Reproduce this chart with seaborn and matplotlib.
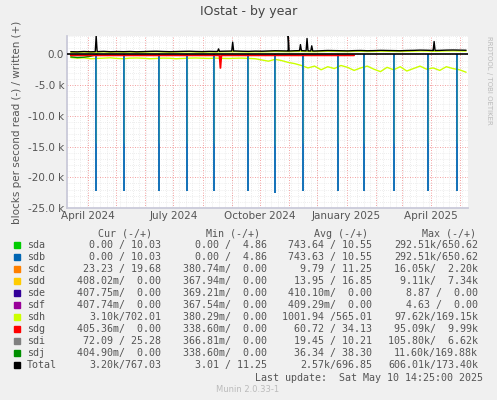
import numpy as np
import pandas as pd
import matplotlib
matplotlib.use("Agg")
import matplotlib.pyplot as plt
import matplotlib.dates as mdates
import seaborn as sns

# weekly samples
weeks = pd.date_range("2024-03-14", "2025-05-08", freq="7D")
total_w = [450, 420, 480, 430, 460, 500, 440, 470, 450, 480, 430, 460, 500, 520, 480, 450,
           470, 500, 520, 480, 460, 500, 480, 520, 540, 560, 520, 500, 540, 520, 560, 600,
           580, 560, 600, 620, 580, 560, 600, 640, 620, 600, 580, 620, 640, 600, 620, 660,
           640, 620, 600, 640, 660, 700, 680, 640, 660, 700, 720, 700, 680]
sdh_w = [-500, -600, -550, -700, -650, -600, -550, -650, -700, -600, -580, -620, -700, -650,
         -600, -620, -700, -650, -600, -580, -620, -650, -600, -640, -660, -620, -600, -650,
         -700, -900, -1100, -800, -1000, -1300, -1500, -1800, -2200, -1900, -2500, -2000,
         -2300, -1800, -2100, -2600, -2200, -1900, -2400, -2800, -2100, -2500, -2000, -2700,
         -2300, -1900, -2400, -2200, -2600, -2000, -2300, -2500, -2900]
sdj_w = [-400, -500, -450, -300] + [0] * 57

# events
total_spike_dates = ["2024-04-10", "2024-08-18", "2024-09-02", "2024-10-31",
                     "2024-11-13", "2024-11-20", "2024-11-25", "2025-04-04"]
total_spike_vals = [3000, 900, 2000, 3200, 1600, 2600, 1400, 2100]
sdb_spike_dates = ["2024-04-10", "2024-05-10", "2024-06-16", "2024-07-16", "2024-08-13",
                   "2024-09-18", "2024-10-17", "2024-11-16", "2024-12-23", "2025-01-20",
                   "2025-02-20", "2025-03-29", "2025-04-28"]
sdb_spike_vals = [-22200, -22200, -22200, -22200, -22200, -22200, -22600, -22200,
                  -22200, -22200, -22200, -22200, -22200]
sdg_spike_date = "2024-08-20"
sdg_spike_val = -2200

legend_names = ["sda", "sdb", "sdc", "sdd", "sde", "sdf", "sdh", "sdg", "sdi", "sdj", "Total"]
legend_colors = ["#00CC00", "#0066B3", "#FF8000", "#FFCC00", "#330099", "#990099",
                 "#CCFF00", "#FF0000", "#808080", "#008F00", "#000000"]
cur = ["0.00 / 10.03", "0.00 / 10.03", "23.23 / 19.68", "408.02m/  0.00", "407.75m/  0.00",
       "407.74m/  0.00", "3.10k/702.01", "405.36m/  0.00", "72.09 / 25.28", "404.90m/  0.00",
       "3.20k/767.03"]
mins = ["0.00 /  4.86", "0.00 /  4.86", "380.74m/  0.00", "367.94m/  0.00", "369.21m/  0.00",
        "367.54m/  0.00", "380.29m/  0.00", "338.60m/  0.00", "366.81m/  0.00", "338.60m/  0.00",
        "3.01 / 11.25"]
avgs = ["743.64 / 10.55", "743.63 / 10.55", "9.79 / 11.25", "13.95 / 16.85", "410.10m/  0.00",
        "409.29m/  0.00", "1001.94 /565.01", "60.72 / 34.13", "19.45 / 10.21", "36.34 / 38.30",
        "2.57k/696.85"]
maxs = ["292.51k/650.62", "292.51k/650.62", "16.05k/  2.20k", "9.11k/  7.34k", "8.87 /  0.00",
        "4.63 /  0.00", "97.62k/169.15k", "95.09k/  9.99k", "105.80k/  6.62k", "11.60k/169.88k",
        "606.01k/173.40k"]

sns.set_theme(style="white")
plt.rcParams["font.family"] = ["DejaVu Sans"]

fig = plt.figure(figsize=(4.97, 4.0), dpi=100, facecolor="#F0F0F0")
ax = fig.add_axes([67 / 497, 192 / 400, 401 / 497, 172 / 400], facecolor="white")

start, end = pd.Timestamp("2024-03-10"), pd.Timestamp("2025-05-10")

# grid
for d in pd.date_range(start, end, freq="7D"):
    ax.axvline(d, color="#DDDDDD", lw=0.5, ls=(0, (1, 2)), zorder=0)
for d in pd.date_range("2024-04-01", end, freq="MS"):
    ax.axvline(d, color="#F08080", lw=0.6, ls=(0, (1, 2)), zorder=0)
for v in range(-25000, 3001, 1000):
    c = "#F08080" if v % 5000 == 0 else "#DDDDDD"
    ax.axhline(v, color=c, lw=0.5 if c == "#DDDDDD" else 0.6, ls=(0, (1, 2)), zorder=0)


def series(base, dates, vals, width=1):
    s = pd.Series(base, index=weeks)
    extra = {}
    for d, v in zip(dates, vals):
        d = pd.Timestamp(d)
        extra[d - pd.Timedelta(days=width)] = np.interp(d.value, s.index.asi8, s.values)
        extra[d] = v
        extra[d + pd.Timedelta(days=width)] = np.interp(d.value, s.index.asi8, s.values)
    s = pd.concat([s, pd.Series(extra)]).sort_index()
    return s


# negative side
sdh = pd.Series(sdh_w, index=weeks)
ax.plot(sdh.index, sdh.values, color="#CCFF00", lw=1.0, zorder=3)
sdj = pd.Series(sdj_w, index=weeks)
ax.plot(sdj.index[:5], sdj.values[:5], color="#008F00", lw=1.0, zorder=3)
ax.vlines(pd.to_datetime(sdb_spike_dates), 0, sdb_spike_vals, color="#0066B3", lw=1.3, zorder=4)
ax.vlines(pd.to_datetime(sdb_spike_dates), -400, [v * 0.65 for v in sdb_spike_vals],
          color="#2E9C9A", lw=0.8, zorder=5, alpha=0.6)
sdg = series([-150] * len(weeks), [sdg_spike_date], [sdg_spike_val], width=1)
ax.plot(sdg.index[sdg.index < "2025-01-10"], sdg.values[sdg.index < "2025-01-10"],
        color="#FF0000", lw=1.3, zorder=4)

# positive side
ax.plot(weeks, [v * 0.8 for v in total_w], color="#CCFF00", lw=1.0, zorder=5)
tot = series(total_w, total_spike_dates, total_spike_vals, width=1)
ax.plot(tot.index, tot.values, color="black", lw=1.0, zorder=6)
ax.axhline(0, color="black", lw=1.2, zorder=6)

ax.set_xlim(start, end)
ax.set_ylim(-25000, 3000)
ax.set_yticks([0, -5000, -10000, -15000, -20000, -25000])
ax.set_yticklabels(["0.0", "-5.0 k", "-10.0 k", "-15.0 k", "-20.0 k", "-25.0 k"])
ax.xaxis.set_major_locator(mdates.MonthLocator(bymonth=[1, 4, 7, 10]))
ax.xaxis.set_major_formatter(mdates.DateFormatter("%B %Y"))
ax.tick_params(axis="both", labelsize=7.5, colors="#555555", length=0, pad=2)
for sp in ["top", "right"]:
    ax.spines[sp].set_visible(False)
for sp in ["left", "bottom"]:
    ax.spines[sp].set_color("#C8C8D8")
ax.set_ylabel("blocks per second read (-) / written (+)", fontsize=7.5, color="#555555")

fig.text(0.5, 1 - 12 / 400, "IOstat - by year", ha="center", va="center",
         fontsize=9, color="#444444")
fig.text(489 / 497, 0.8, "RRDTOOL / TOBI OETIKER", rotation=270, ha="center", va="center",
         fontsize=5, color="#BBBBBB")

mono = {"family": "DejaVu Sans Mono", "size": 7.2, "color": "#555555"}
hy = 1 - 234 / 400
for x, t in [(152, "Cur (-/+)"), (260, "Min (-/+)"), (368, "Avg (-/+)"), (476, "Max (-/+)")]:
    fig.text(x / 497, hy, t, ha="right", va="center", fontdict=mono)
for i, n in enumerate(legend_names):
    y = 1 - (245 + 12 * i) / 400
    fig.patches.append(plt.Rectangle((14 / 497, y - 3 / 400), 6 / 497, 6 / 400,
                                     transform=fig.transFigure, color=legend_colors[i]))
    fig.text(27 / 497, y, n, ha="left", va="center", fontdict=mono)
    fig.text(161 / 497, y, cur[i], ha="right", va="center", fontdict=mono)
    fig.text(267 / 497, y, mins[i], ha="right", va="center", fontdict=mono)
    fig.text(372 / 497, y, avgs[i], ha="right", va="center", fontdict=mono)
    fig.text(478 / 497, y, maxs[i], ha="right", va="center", fontdict=mono)
fig.text(483 / 497, 1 - 378 / 400, "Last update:  Sat May 10 14:25:00 2025",
         ha="right", va="center", fontdict=mono)
fig.text(248 / 497, 1 - 389 / 400, "Munin 2.0.33-1", ha="center", va="center",
         fontsize=6, color="#BBBBBB")

fig.savefig("out.png", dpi=100, facecolor=fig.get_facecolor())
